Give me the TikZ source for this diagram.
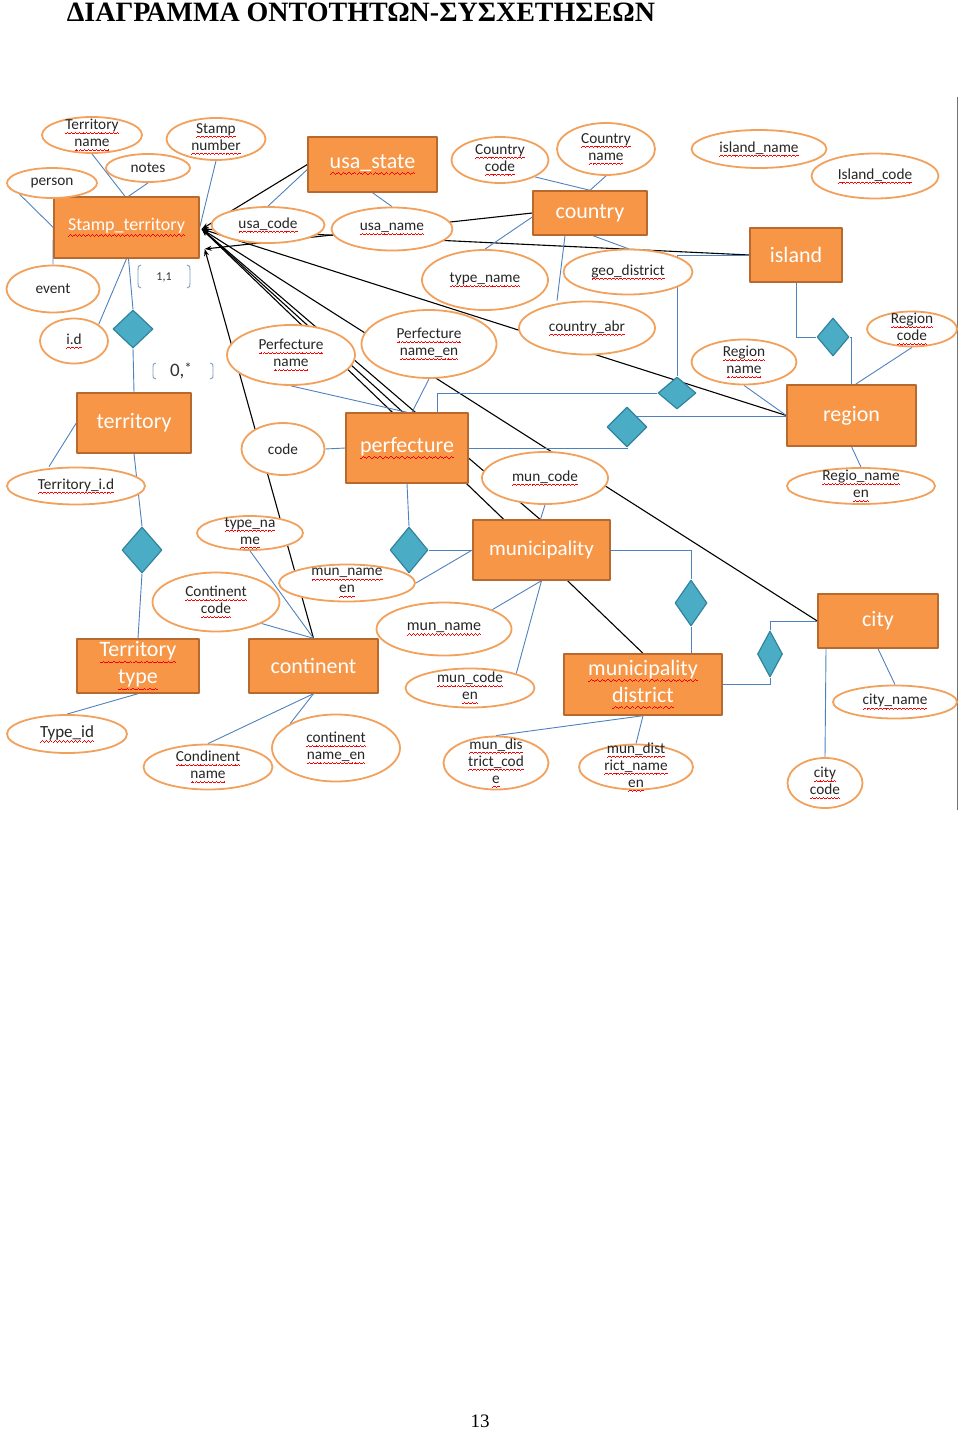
\documentclass[tikz,border=0pt]{standalone}
\usepackage{fontspec}
\setmainfont{Carlito}
\newfontfamily\titlefont{Liberation Serif}
\usetikzlibrary{shapes.geometric,arrows.meta,calc}
\pgfdeclarelayer{bg}
\pgfsetlayers{bg,main}
\definecolor{entfill}{HTML}{F79646}
\definecolor{entdraw}{HTML}{B86A2E}
\definecolor{attdraw}{HTML}{F2A15C}
\definecolor{dfill}{HTML}{4BACC6}
\definecolor{ddraw}{HTML}{31849B}
\definecolor{blu}{HTML}{4F81BD}
\definecolor{brkc}{HTML}{7E9CC0}
\newcommand\rw[1]{\setbox0=\hbox{#1}\leavevmode\rlap{\hbox to \wd0{\color{red}\xleaders\hbox{\rule[-0.30em]{0.06em}{0.045em}\rule[-0.26em]{0.06em}{0.045em}\rule[-0.22em]{0.06em}{0.045em}\rule[-0.26em]{0.06em}{0.045em}}\hfill}}\box0}
\tikzset{
  ent/.style={draw=entdraw, line width=1.4pt, fill=entfill, inner sep=0pt, text=white, font=\fontsize{22}{27}\selectfont, align=center},
  attr/.style={ellipse, draw=attdraw, line width=1.8pt, fill=white, inner sep=0pt},
  atext/.style={inner sep=0pt, align=center, text=black!85, font=\fontsize{15.3}{17}\selectfont},
  rel/.style={diamond, draw=ddraw, line width=1.2pt, fill=dfill, inner sep=0pt},
  bl/.style={draw=blu, line width=0.9pt},
  bk/.style={draw=black, line width=1.1pt, arrows={Stealth[length=7pt,width=5pt]-}},
  brk/.style={draw=brkc, line width=0.9pt},
}
\newcommand\attrn[5]{\node[attr, minimum width=#3, minimum height=#4] (#1) at (#2) {}; \node[atext] (#1t) at (#1.center) {#5};}
\newcommand\entn[5]{\node[ent, minimum width=#3, minimum height=#4] (#1) at (#2) {#5};}
\begin{document}
\begin{tikzpicture}[x=1pt, y=-1pt, line join=round]
\useasboundingbox (0,0) rectangle (960,1431);
% title and page number
\node[font=\titlefont\bfseries\fontsize{28}{28}\selectfont, anchor=base, inner sep=0pt] (title) at (361,22) {ΔΙΑΓΡΑΜΜΑ ΟΝΤΟΤΗΤΩΝ-ΣΥΣΧΕΤΗΣΕΩΝ};
\node[font=\titlefont\fontsize{19}{19}\selectfont, anchor=base, inner sep=0pt] (pgnum) at (480,1427) {13};
\draw[black!55, line width=0.8pt] (957,97) -- (957,810);
% entities
\entn{stamp}{126.5,227.5}{145}{61}{\fontsize{18}{22}\selectfont\rw{Stamp\_territory}}
\entn{ustate}{372.5,164.5}{129}{55}{\rw{usa\_state}}
\entn{country}{590,213}{114}{44}{country}
\entn{island}{796,255}{92}{54}{island}
\entn{region}{851.5,415.5}{129}{61}{region}
\entn{terr}{134,423}{114}{60}{territory}
\entn{perf}{407,448}{122}{70}{\rw{perfecture}}
\entn{muni}{541.5,550}{137}{60}{\fontsize{21}{25}\selectfont municipality}
\entn{city}{878,621}{120}{54}{city}
\entn{ttype}{138,666}{122}{54}{\rw{Territory}\\\rw{type}}
\entn{cont}{313.5,666}{129}{54}{continent}
\entn{mdist}{643,684.5}{158}{61}{\rw{municipality}\\\rw{district}}
% attributes
\attrn{tname}{92,135}{100}{36}{\rw{Territory}\\\rw{name}}
\attrn{snum}{216,139}{99}{42}{\rw{Stamp}\\\rw{number}}
\attrn{notes}{148,168}{84}{28}{notes}
\attrn{person}{52,183}{90}{30}{person}
\attrn{event}{53,289}{93}{47}{event}
\attrn{ucode}{268,225}{113}{36}{\rw{usa\_code}}
\attrn{uname}{392,229}{121}{43}{\rw{usa\_name}}
\attrn{ccode}{500,160}{97}{46}{\rw{Country}\\\rw{code}}
\attrn{cname}{606,149}{98}{52}{\rw{Country}\\\rw{name}}
\attrn{iname}{759,149}{135}{38}{\rw{island\_name}}
\attrn{icode}{875,176}{127}{45}{\rw{Island\_code}}
\attrn{tyname}{485,280}{126}{60}{\rw{type\_name}}
\attrn{geo}{628,272}{129}{45}{\rw{geo\_district}}
\attrn{cabr}{587,328}{136}{53}{\rw{country\_abr}}
\attrn{rname}{744,362}{105}{45}{\rw{Region}\\\rw{name}}
\attrn{rcode}{912,329}{90}{35}{\rw{Region}\\\rw{code}}
\attrn{rnameen}{861,486}{148}{36}{\rw{Regio\_name}\\\rw{en}}
\attrn{id}{74,341}{68}{45}{\rw{i.d}}
\attrn{pname}{291,355}{128}{60}{\rw{Perfecture}\\\rw{name}}
\attrn{pnameen}{429,344}{135}{68}{\rw{Perfecture}\\\rw{name\_en}}
\attrn{code}{283,449}{83}{52}{code}
\attrn{tid}{76,486}{138}{37}{\rw{Territory\_i.d}}
\attrn{mcode}{545,478}{126}{52}{\rw{mun\_code}}
\attrn{tnm}{250,533}{106}{34}{\rw{type\_na}\\\rw{me}}
\attrn{mnameen}{347,583}{136}{37}{\rw{mun\_name}\\\rw{en}}
\attrn{ctcode}{216,602}{127}{59}{\rw{Continent}\\\rw{code}}
\attrn{mname}{444,629}{135}{53}{\fontsize{16}{18}\selectfont\rw{mun\_name}}
\attrn{mcodeen}{470,688}{129}{39}{\rw{mun\_code}\\\rw{en}}
\attrn{typeid}{67,734}{120}{38}{\fontsize{17}{19}\selectfont\rw{Type\_id}}
\attrn{ctname}{208,767}{129}{45}{\rw{Condinent}\\\rw{name}}
\attrn{ctnameen}{336,748}{128}{67}{\rw{continent}\\\rw{name\_en}}
\attrn{mdcode}{496,763}{105}{53}{\rw{mun\_dis}\\\rw{trict\_cod}\\\rw{e}}
\attrn{mdname}{636,767}{114}{45}{\rw{mun\_dist}\\\rw{rict\_name}\\\rw{en}}
\attrn{cityname}{895,702}{124}{33}{\rw{city\_name}}
\attrn{citycode}{825,783}{75}{50}{\rw{city}\\\rw{code}}
% relationships
\node[rel, minimum width=40, minimum height=38] (dA) at (133,329) {};
\node[rel, minimum width=40, minimum height=46] (dB) at (142,550) {};
\node[rel, minimum width=38, minimum height=46] (dC) at (409,550) {};
\node[rel, minimum width=38, minimum height=32] (dI) at (677,393) {};
\node[rel, minimum width=40, minimum height=40] (dP) at (627,427) {};
\node[rel, minimum width=32, minimum height=38] (dR) at (833,337) {};
\node[rel, minimum width=32, minimum height=46] (dD) at (691,603) {};
\node[rel, minimum width=25, minimum height=46] (dE) at (770,654) {};
% cardinalities
\node[font=\fontsize{12}{12}\selectfont, text=black!80, inner sep=0pt] (c11) at (164,277) {1,1};
\node[font=\fontsize{19}{19}\selectfont, text=black!80, inner sep=0pt] (c0n) at (181,371) {0,\raisebox{3pt}{\fontsize{15}{15}\selectfont *}};
\draw[brk] (141,265) .. controls (138,265) and (138,267) .. (138,270) -- (138,283) .. controls (138,286) and (138,288) .. (141,288);
\draw[brk] (187,265) .. controls (190,265) and (190,267) .. (190,270) -- (190,283) .. controls (190,286) and (190,288) .. (187,288);
\draw[brk] (156,363) .. controls (153,363) and (153,365) .. (153,367) -- (153,375) .. controls (153,377) and (153,379) .. (156,379);
\draw[brk] (210,363) .. controls (213,363) and (213,365) .. (213,367) -- (213,375) .. controls (213,377) and (213,379) .. (210,379);
% connectors
\begin{pgfonlayer}{bg}
\coordinate (sA) at ([xshift=2pt,yshift=-1.5pt]stamp.east);
\coordinate (sB) at ([xshift=5pt,yshift=-21.5pt]stamp.east);
\draw[bk] (sA) -- (ustate.west);
\draw[bk] (sB) -- (country.west);
\draw[bk] (sA) -- (island.west);
\draw[bk] (sA) -- (region.west);
\draw[bk] (sA) -- (city.west);
\draw[bk] (sA) -- ([xshift=-4pt]perf.north);
\draw[bk] (sA) -- ([xshift=-1.5pt]muni.north);
\draw[bk] (sA) -- (mdist.north);
\draw[bk] (sB) -- (cont.north);
\draw[bl] (tname.south) -- ([xshift=-1.5pt]stamp.north);
\draw[bl] (notes.south) -- ([xshift=2pt]stamp.north);
\draw[bl] (snum.south) -- (stamp.east);
\draw[bl] (person.south west) -- (stamp.west);
\draw[bl] (event.north) -- (stamp.west);
\draw[bl] (id.north east) -- (stamp.south);
\draw[bl] ([xshift=2pt]stamp.south) -- (dA.north);
\draw[bl] (dA.south) -- (terr.north);
\draw[bl] (terr.west) -- ([xshift=-27pt]tid.north);
\draw[bl] (terr.south) -- (dB.north);
\draw[bl] (dB.south) -- (ttype.north);
\draw[bl] (ttype.south) -- (typeid.north);
\draw[bl] (code.east) -- (perf.west);
\draw[bl] (pname.south) -- (perf.north);
\draw[bl] (pnameen.south) -- ([xshift=5pt]perf.north);
\draw[bl] (perf.south) -- (dC.north);
\draw[bl] (dC.east) -- (muni.west);
\draw[bl] (mcode.south) -- ([xshift=-1pt]muni.north);
\draw[bl] (mnameen.east) -- (muni.west);
\draw[bl] (mname.north east) -- (muni.south);
\draw[bl] (mcodeen.north east) -- (muni.south);
\draw[bl] (muni.east) -| (dD.north);
\draw[bl] (dD.south) -- (dD.south |- mdist.north);
\draw[bl] (mdist.south) -- (mdcode.north);
\draw[bl] (mdist.south) -- (mdname.north);
\draw[bl] (mdist.east) -| (dE.south);
\draw[bl] (dE.north) |- (city.west);
\draw[bl] (city.south) -- (cityname.north);
\draw[bl] ([xshift=-52pt]city.south) -- (citycode.north);
\draw[bl] (tnm.south) -- (cont.north);
\draw[bl] (ctcode.south east) -- (cont.north);
\draw[bl] (cont.south) -- (ctname.north);
\draw[bl] (cont.south) -- (ctnameen.north west);
\draw[bl] (ucode.north) -- ([yshift=-5pt]ustate.west);
\draw[bl] (uname.north) -- (ustate.south);
\draw[bl] (ccode.south east) -- (country.north);
\draw[bl] (cname.south) -- (country.north);
\draw[bl] (tyname.north) -- ([yshift=-4pt]country.west);
\draw[bl] ([xshift=-25pt]country.south) -- ([xshift=-30pt]cabr.north);
\draw[bl] ([xshift=3pt]country.south) -- (geo.north);
\draw[bl] (island.west) -| (dI.north);
\draw[bl] (dI.west) -| ([xshift=30pt]perf.north);
\draw[bl] (perf.east) -| (dP.south);
\draw[bl] (dP.north east) -- (dP.north east -| region.west);
\draw[bl] (island.south) |- (dR.west);
\draw[bl] (dR.east) -| (region.north);
\draw[bl] (rcode.south) -- ([xshift=4pt]region.north);
\draw[bl] (rname.south) -- (region.west);
\draw[bl] (region.south) -- (rnameen.north);
\end{pgfonlayer}
\end{tikzpicture}
\end{document}
